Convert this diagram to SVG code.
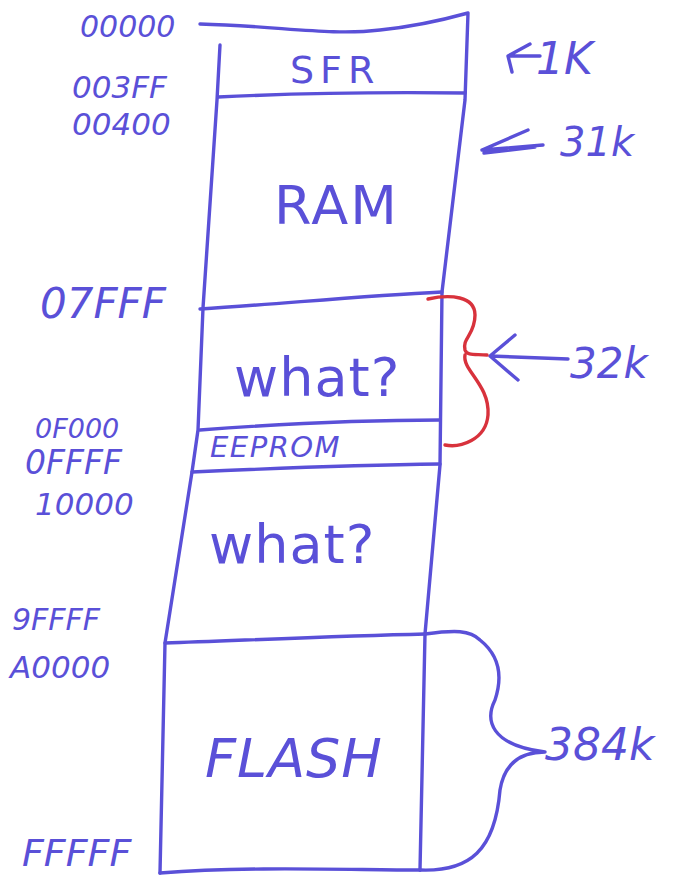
<svg xmlns="http://www.w3.org/2000/svg" width="675" height="876" viewBox="0 0 675 876">
<defs>
<style>
.ln{fill:none;stroke:#5a50d8;stroke-width:3.4;stroke-linecap:round;stroke-linejoin:round}
.red{fill:none;stroke:#d8323c;stroke-width:3.4;stroke-linecap:round}
text{font-family:"DejaVu Sans","Liberation Sans",sans-serif;fill:#5a50d8;font-style:italic}
.big{font-size:54px;font-style:normal}
</style>
</defs>
<rect width="675" height="876" fill="#ffffff"/>
<g id="frame">
<path class="ln" d="M200,24 C280,26 330,36 380,30 C420,26 450,18 468,13 L465,100 L442,292 L440,465 L425,634 L420,870"/>
<path class="ln" d="M220,45 L217,100 L203,308 L198,430 L192,472 L165,643 L160,873"/>
<path class="ln" d="M160,873 C250,866 350,870 420,870"/>
</g>
<g id="sfr">
<path class="ln" d="M218,97 C300,93 380,92 465,93"/>
<text x="290" y="83" font-size="38" style="font-style:normal" letter-spacing="6">SFR</text>
</g>
<g id="ram">
<text x="274" y="224" class="big" letter-spacing="2">RAM</text>
</g>
<g id="what1">
<path class="ln" d="M200,309 C280,304 360,296 442,292"/>
<text x="234" y="396" class="big" letter-spacing="1">what?</text>
</g>
<g id="eeprom">
<path class="ln" d="M200,430 C280,424 360,420 440,420"/>
<path class="ln" d="M192,472 C280,468 360,465 440,464"/>
<text x="210" y="457" font-size="29" letter-spacing="1.5">EEPROM</text>
</g>
<g id="what2">
<text x="209" y="563" class="big" letter-spacing="1">what?</text>
</g>
<g id="flash">
<path class="ln" d="M165,643 C250,640 340,636 425,634"/>
<text x="205" y="777" font-size="54" letter-spacing="1">FLASH</text>
</g>
<g id="addresses">
<text x="80" y="37" font-size="30">00000</text>
<text x="72" y="98" font-size="31">003FF</text>
<text x="72" y="135" font-size="31">00400</text>
<text x="40" y="318" font-size="42">07FFF</text>
<text x="35" y="438" font-size="27">0F000</text>
<text x="25" y="474" font-size="33">0FFFF</text>
<text x="35" y="515" font-size="31">10000</text>
<text x="12" y="630" font-size="30">9FFFF</text>
<text x="10" y="678" font-size="31">A0000</text>
<text x="22" y="866" font-size="38">FFFFF</text>
</g>
<g id="sizes">
<text x="536" y="74" font-size="44">1K</text>
<text x="560" y="156" font-size="40">31k</text>
<text x="570" y="378" font-size="42">32k</text>
<text x="545" y="760" font-size="44">384k</text>
</g>
<g id="connectors">
<path class="ln" d="M512,72 L508,56 L530,44 M508,56 L540,56"/>
<path class="ln" d="M482,150 L543,145 M482,150 L528,130 M484,153 L535,147"/>
<path class="ln" d="M568,359 L490,356 M490,356 L515,335 M490,356 L518,380"/>
<path class="red" d="M428,299 C450,294 475,296 475,315 C475,335 462,338 465,350 C467,356 475,354 487,355 M465,355 C462,370 490,385 488,415 C486,440 460,448 445,445"/>
<path class="ln" d="M425,634 C455,630 470,630 480,640 C505,660 500,685 495,700 C485,720 490,745 545,752 C525,752 505,760 500,790 C495,850 470,872 420,870"/>
</g>
</svg>
